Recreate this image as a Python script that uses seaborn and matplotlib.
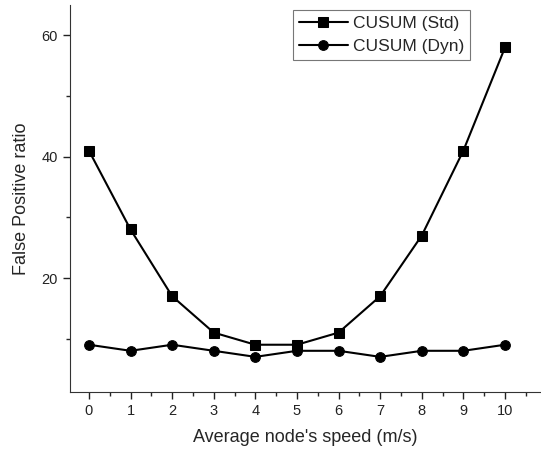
import matplotlib
matplotlib.use("Agg")
from matplotlib import pyplot as plt
from matplotlib.ticker import MultipleLocator
import pandas as pd
import seaborn as sns

speed = [0, 1, 2, 3, 4, 5, 6, 7, 8, 9, 10]
cusum_std = [41, 28, 17, 11, 9, 9, 11, 17, 27, 41, 58]
cusum_dyn = [9, 8, 9, 8, 7, 8, 8, 7, 8, 8, 9]

df = pd.DataFrame({
    'speed': speed * 2,
    'ratio': cusum_std + cusum_dyn,
    'method': ['CUSUM (Std)'] * len(speed) + ['CUSUM (Dyn)'] * len(speed),
})

sns.set_style('ticks')
plt.rcParams['font.family'] = ['Liberation Sans', 'DejaVu Sans']
plt.rcParams['xtick.direction'] = 'out'
plt.rcParams['ytick.direction'] = 'out'

fig = plt.figure(figsize=(5.41, 4.58), dpi=100)
ax = fig.add_axes([0.129, 0.144, 0.869, 0.845])
sns.lineplot(data=df, x='speed', y='ratio', hue='method', style='method',
             markers={'CUSUM (Std)': 's', 'CUSUM (Dyn)': 'o'}, dashes=False,
             palette=['black', 'black'], markersize=7, linewidth=1.5,
             markeredgecolor='black', ax=ax)

ax.set_xlim(-0.46, 10.84)
ax.set_ylim(1.2, 65)
ax.set_xticks(speed)
ax.set_yticks([20, 40, 60])
ax.xaxis.set_minor_locator(MultipleLocator(0.5))
ax.yaxis.set_minor_locator(MultipleLocator(10))
ax.tick_params(axis='both', which='major', length=5, width=1, labelsize=10.5, colors='#222222')
ax.tick_params(axis='both', which='minor', length=3, width=1)
for s in ['top', 'right']:
    ax.spines[s].set_visible(False)
for s in ['left', 'bottom']:
    ax.spines[s].set_color('#333333')
ax.set_xlabel("Average node's speed (m/s)", fontsize=13, labelpad=8)
ax.set_ylabel('False Positive ratio', fontsize=13, labelpad=8)

leg = ax.legend(loc='upper left', bbox_to_anchor=(0.475, 0.988), fontsize=12.5,
                frameon=True, fancybox=False, borderpad=0.35, handlelength=2.8,
                handletextpad=0.3, labelspacing=0.45, borderaxespad=0)
leg.get_frame().set_edgecolor('#555555')
leg.get_frame().set_linewidth(0.8)

plt.savefig('out.png', dpi=100)
